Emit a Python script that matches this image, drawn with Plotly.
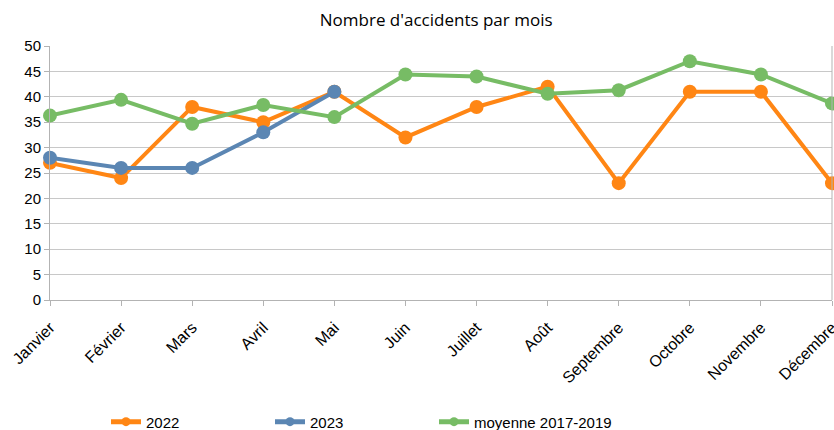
import plotly.graph_objects as go

months = ["Janvier", "Février", "Mars", "Avril", "Mai", "Juin", "Juillet",
          "Août", "Septembre", "Octobre", "Novembre", "Décembre"]
v2022 = [27, 24, 38, 35, 41, 32, 38, 42, 23, 41, 41, 23]
v2023 = [28, 26, 26, 33, 41]
avg_2017_2019 = [36.3, 39.4, 34.7, 38.4, 36.0, 44.4, 44.0, 40.6, 41.3, 47.0, 44.4, 38.7]

series_names = ["2022", "2023", "moyenne 2017-2019"]
colors = ["#ff8614", "#5b86b3", "#77bc65"]
legend_ids = ["legend", "legend2", "legend3"]
legend_x = [106, 270, 434]

fig = go.Figure()
for name, vals, col in zip(series_names, [v2022, v2023, avg_2017_2019], colors):
    fig.add_trace(go.Scatter(x=months[:len(vals)], y=vals, name=name, mode="lines+markers",
                             line=dict(color=col, width=4), showlegend=False,
                             marker=dict(color=col, size=14), cliponaxis=False))
# legend entries (smaller marker, as in the reference legend)
for name, col, lid in zip(series_names, colors, legend_ids):
    fig.add_trace(go.Scatter(x=[None], y=[None], name=name, mode="lines+markers",
                             line=dict(color=col, width=5), legend=lid,
                             marker=dict(color=col, size=9)))

legend_common = dict(orientation="h", yref="paper", y=-0.48,
                     xanchor="left", yanchor="middle", font=dict(size=15), itemwidth=30,
                     bgcolor="rgba(0,0,0,0)")

fig.update_layout(
    width=834, height=430, showlegend=True,
    margin=dict(l=50, r=2, t=46, b=130, autoexpand=False),
    paper_bgcolor="white", plot_bgcolor="white",
    title=dict(text="Nombre d'accidents par mois", x=0.523, xanchor="center", y=0.953, yanchor="middle",
               font=dict(family="Open Sans, sans-serif", size=17, color="#000")),
    font=dict(family="Liberation Sans, Arial, sans-serif", color="#000"),
    xaxis=dict(type="category", categoryorder="array", categoryarray=months,
               range=[0, 11], tickangle=-45, automargin=False,
               tickfont=dict(size=16, family="Liberation Sans"), ticklabelstandoff=6,
               showgrid=False, showline=True, linecolor="#b3b3b3", linewidth=1,
               ticks="outside", ticklen=5, tickcolor="#b3b3b3", mirror=False),
    yaxis=dict(range=[0, 50], dtick=5, tickfont=dict(size=15), automargin=False,
               showgrid=True, gridcolor="#c8c8c8", gridwidth=1,
               showline=True, linecolor="#b3b3b3", ticks="outside", ticklen=5,
               tickcolor="#b3b3b3", zeroline=False),
    legend=dict(xref="container", x=legend_x[0] / 834, **legend_common),
    legend2=dict(xref="container", x=legend_x[1] / 834, **legend_common),
    legend3=dict(xref="container", x=legend_x[2] / 834, **legend_common),
)
fig.add_shape(type="line", xref="paper", yref="paper", x0=1, x1=1, y0=0, y1=1,
              line=dict(color="#b3b3b3", width=1))
fig.write_html("out.html", config={"displayModeBar": False},
               post_script="document.body.style.margin='0';document.body.style.overflow='hidden';")
